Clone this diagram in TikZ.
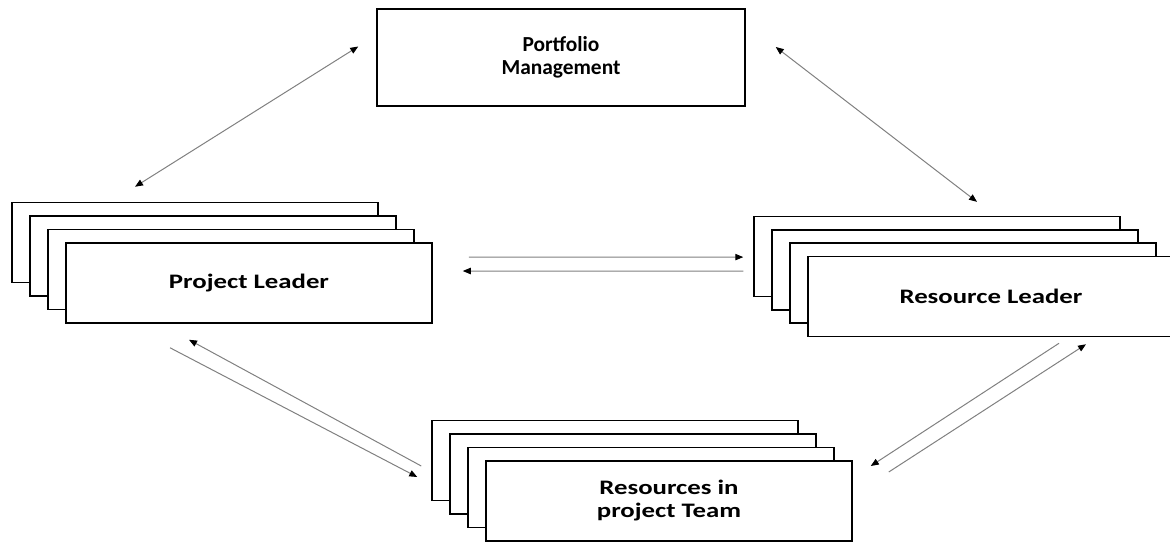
\documentclass[tikz,border=0pt]{standalone}
\usepackage{fontspec}
\setmainfont{Carlito}
\newfontfamily\wideface[FakeStretch=1.3]{Carlito}
\usetikzlibrary{arrows.meta, calc}
\tikzset{
  page/.style={
    draw, rectangle, fill=white, line width=0.75pt,
    minimum width=183pt, minimum height=40pt, inner sep=0pt
  },
  topbox/.style={
    page, minimum width=184pt, minimum height=48.5pt
  },
  label/.style={
    font=\fontsize{10.7}{11.5}\selectfont\bfseries, align=center
  },
  widelabel/.style={
    font=\wideface\fontsize{10.3}{11.5}\selectfont\bfseries, align=center
  },
  link/.style={
    {Triangle[length=4pt, width=3.2pt, color=black]}-{Triangle[length=4pt, width=3.2pt, color=black]},
    draw=gray, line width=0.5pt
  },
  flow/.style={
    -{Triangle[length=4pt, width=3.2pt, color=black]},
    draw=gray, line width=0.5pt
  }
}

\begin{document}
\begin{tikzpicture}[x=0.5pt, y=-0.5pt]
  \clip (0,0) rectangle (1170,541);

  % portfolio
  \node[topbox, label] (pm) at (561,57.5) {Portfolio\\Management};

  % project leader stack
  \foreach \i in {3,2,1}
    \node[page] (pl\i) at ({249-18*\i},{283-13.5*\i}) {};
  \node[page, widelabel] (pl) at (249,283) {Project Leader};

  % resource leader stack
  \foreach \i in {3,2,1}
    \node[page] (rl\i) at ({991-18*\i},{296.5-13.3*\i}) {};
  \node[page, widelabel] (rl) at (991,296.5) {Resource Leader};

  % resources stack
  \foreach \i in {3,2,1}
    \node[page] (rt\i) at ({669-18*\i},{501-13.5*\i}) {};
  \node[page, widelabel] (rt) at (669,501) {Resources in\\project Team};

  % connectors
  \draw[link] ($(pm.west)+(-18,-11)$) -- ($(pl3.north)+(-60,-15)$);
  \draw[link] ($(pm.east)+(30,-10.5)$) -- ($(rl3.north)+(40,-14)$);

  \draw[flow] ($(pl.east)+(36,-26)$) -- ($(rl3.west)+(-10,0.5)$);
  \draw[flow] ($(rl3.west)+(-10,14.5)$) -- ($(pl.east)+(30,-12)$);

  \draw[flow] ($(rt3.west)+(-10,5.5)$) -- ($(pl.south)+(-60,16)$);
  \draw[flow] ($(pl.south)+(-79,24)$) -- ($(rt3.west)+(-14,16.5)$);

  \draw[flow] ($(rl.south)+(68,6)$) -- ($(rt.east)+(18,-35)$);
  \draw[flow] ($(rt.east)+(36,-29)$) -- ($(rl.south)+(95,7)$);
\end{tikzpicture}
\end{document}
